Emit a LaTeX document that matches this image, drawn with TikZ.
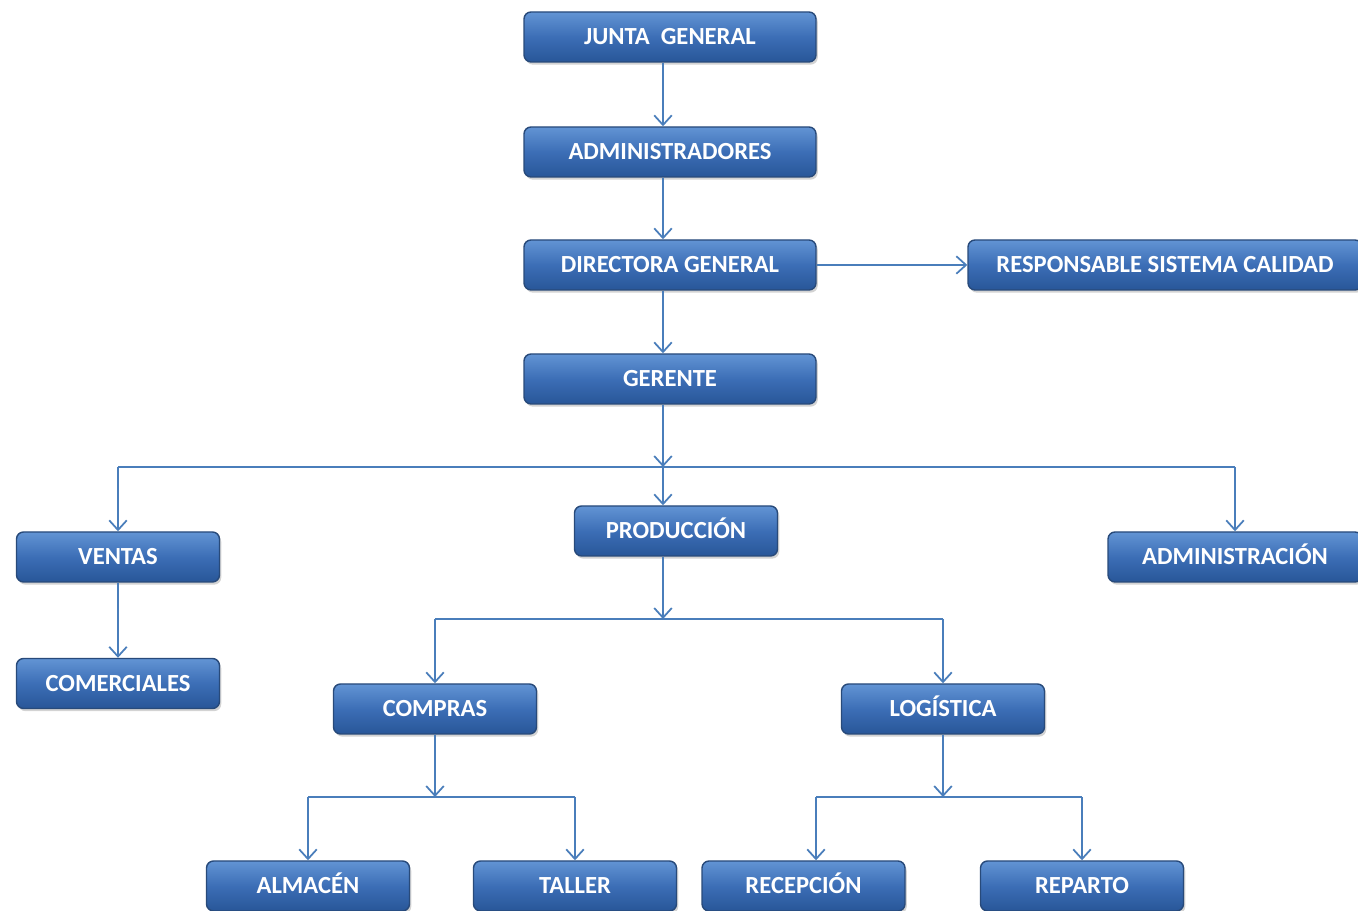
\documentclass[tikz,border=0pt]{standalone}
\usepackage{fontspec}
\setmainfont{Carlito}
\usepackage{xcolor}
\usepackage{tikz}
\usetikzlibrary{arrows.meta,shadows}
\definecolor{boxtop}{RGB}{98, 148, 212}
\definecolor{boxmid}{RGB}{60, 110, 182}
\definecolor{boxbottom}{RGB}{40, 86, 152}
\definecolor{boxborder}{RGB}{40, 74, 122}
\definecolor{linkblue}{RGB}{74, 126, 187}

\begin{document}
\begin{tikzpicture}[
        orgbox/.style={rectangle, rounded corners=4pt, draw=boxborder, thick, top color=boxtop, bottom color=boxbottom, middle color=boxmid, minimum height=1cm, text height=9pt, text depth=0pt, text=white, font=\fontsize{14}{16}\selectfont\bfseries, drop shadow={shadow xshift=1pt, shadow yshift=-1.5pt, opacity=0.35}},
        wide/.style={orgbox, minimum width=5.84cm},
        narrow/.style={orgbox, minimum width=4.06cm},
        link/.style={draw=linkblue, line width=1pt},
        flow/.style={link, -{Straight Barb[length=5.5pt, width=10pt]}}
    ]
    \clip (0, 0) rectangle (27.16, 18.22);

    % Upper chain
    \node[wide] (junta) at (13.40, 17.48) {JUNTA\ \ GENERAL};
    \node[wide] (admins) at (13.40, 15.18) {ADMINISTRADORES};
    \node[wide] (directora) at (13.40, 12.92) {DIRECTORA GENERAL};
    \node[orgbox, minimum width=7.88cm] (calidad) at (23.30, 12.92) {RESPONSABLE SISTEMA CALIDAD};
    \node[wide] (gerente) at (13.40, 10.64) {GERENTE};

    % Departments
    \node[narrow] (ventas) at (2.36, 7.08) {VENTAS};
    \node[narrow] (produccion) at (13.52, 7.60) {PRODUCCIÓN};
    \node[orgbox, minimum width=5.08cm] (administracion) at (24.70, 7.08) {ADMINISTRACIÓN};
    \node[narrow] (comerciales) at (2.36, 4.55) {COMERCIALES};
    \node[narrow] (compras) at (8.70, 4.04) {COMPRAS};
    \node[narrow] (logistica) at (18.86, 4.04) {LOGÍSTICA};

    % Bottom row
    \node[narrow] (almacen) at (6.16, 0.50) {ALMACÉN};
    \node[narrow] (taller) at (11.50, 0.50) {TALLER};
    \node[narrow] (recepcion) at (16.07, 0.50) {RECEPCIÓN};
    \node[narrow] (reparto) at (21.64, 0.50) {REPARTO};

    % Bus points
    \coordinate (busA) at (13.26, 8.88);
    \coordinate (busB) at (13.26, 5.84);
    \coordinate (busC) at (8.70, 2.28);
    \coordinate (busD) at (18.86, 2.28);

    % Chain flows
    \draw[flow] ([xshift=-1.4mm]junta.south) -- ([xshift=-1.4mm]admins.north);
    \draw[flow] ([xshift=-1.4mm]admins.south) -- ([xshift=-1.4mm]directora.north);
    \draw[flow] ([xshift=-1.4mm]directora.south) -- ([xshift=-1.4mm]gerente.north);
    \draw[flow] (directora.east) -- (calidad.west);

    % Gerente to departments
    \draw[flow] (gerente.south -| busA) -- (busA);
    \draw[link] (ventas.north |- busA) -- (administracion.north |- busA);
    \draw[flow] (ventas.north |- busA) -- (ventas.north);
    \draw[flow] (busA) -- (produccion.north -| busA);
    \draw[flow] (administracion.north |- busA) -- (administracion.north);
    \draw[flow] (ventas.south) -- (comerciales.north);

    % Produccion branches
    \draw[flow] (produccion.south -| busB) -- (busB);
    \draw[link] (compras.north |- busB) -- (logistica.north |- busB);
    \draw[flow] (compras.north |- busB) -- (compras.north);
    \draw[flow] (logistica.north |- busB) -- (logistica.north);

    % Compras and Logistica branches
    \draw[flow] (compras.south) -- (busC);
    \draw[link] (almacen.north |- busC) -- (taller.north |- busC);
    \draw[flow] (almacen.north |- busC) -- (almacen.north);
    \draw[flow] (taller.north |- busC) -- (taller.north);
    \draw[flow] (logistica.south) -- (busD);
    \draw[link] ([xshift=2.5mm]recepcion.north |- busD) -- (reparto.north |- busD);
    \draw[flow] ([xshift=2.5mm]recepcion.north |- busD) -- ([xshift=2.5mm]recepcion.north);
    \draw[flow] (reparto.north |- busD) -- (reparto.north);

\end{tikzpicture}
\end{document}
